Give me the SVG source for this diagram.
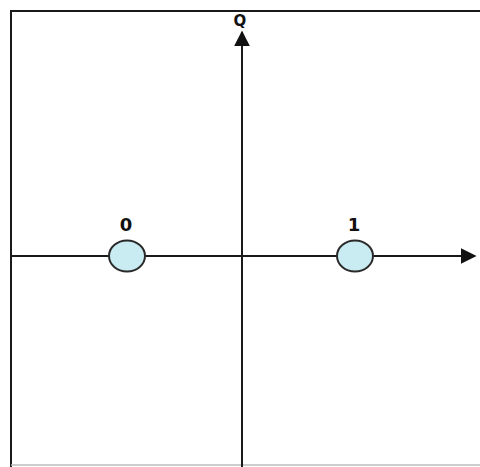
<svg xmlns="http://www.w3.org/2000/svg" width="480" height="467" viewBox="0 0 480 467">
<style>
.ax{stroke:#1a1a1a;stroke-width:2;fill:none}
.pt{fill:#c8ecf2;stroke:#2a2a2a;stroke-width:2}
.lb{font-family:"DejaVu Sans","Liberation Sans",sans-serif;font-size:18px;font-weight:bold;fill:#111;text-anchor:middle}
.q{font-family:"DejaVu Sans","Liberation Sans",sans-serif;font-size:15px;font-weight:600;fill:#111;text-anchor:middle}
</style>
<defs>
<marker id="ah" viewBox="0 0 10 10" refX="9" refY="5" markerWidth="8" markerHeight="8" orient="auto">
<path d="M0,0 L10,5 L0,10 z" fill="#111"/>
</marker>
</defs>
<rect width="480" height="467" fill="#fff"/>
<g id="frame">
<path d="M11,467 L11,11 L480,11" class="ax" stroke-width="2.5"/>
<line x1="11" y1="465" x2="480" y2="465" stroke="#bbb" stroke-width="1.5"/>
</g>
<g id="connectors">
<line x1="242" y1="467" x2="242" y2="32" class="ax" marker-end="url(#ah)"/>
<line x1="11" y1="256" x2="475" y2="256" class="ax" marker-end="url(#ah)"/>
</g>
<g id="q-label"><text class="q" x="240" y="26">Q</text></g>
<g id="point-0">
<ellipse class="pt" cx="127" cy="256" rx="18" ry="15.5"/>
<text class="lb" x="126" y="231">0</text>
</g>
<g id="point-1">
<ellipse class="pt" cx="355" cy="256" rx="18" ry="15.5"/>
<text class="lb" x="354" y="231">1</text>
</g>
</svg>
